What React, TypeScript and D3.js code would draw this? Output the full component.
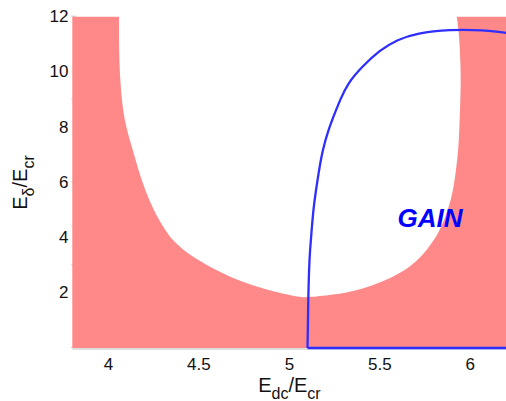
import React from "react";
import * as d3 from "d3";

// axis ticks
const xTicks = [4, 4.5, 5, 5.5, 6];
const yTicks = [2, 4, 6, 8, 10, 12];
const yMinorTicks = [0, 3, 6, 9, 12];

// boundary of the white (no-gain) hole:
// left branch from the top down, then the right branch back up
const holeX = [4.058, 4.058, 4.064, 4.079, 4.101, 4.134, 4.165, 4.202, 4.248, 4.312, 4.368, 4.46, 4.589, 4.709, 4.875, 5.04, 5.09, 5.241, 5.39, 5.538, 5.648, 5.731, 5.787, 5.833, 5.878, 5.906, 5.921, 5.934, 5.939, 5.943, 5.947, 5.947, 5.938, 5.925];
const holeY = [12, 10.79, 9.71, 8.62, 7.9, 7.18, 6.45, 5.72, 5.0, 4.27, 3.79, 3.31, 2.83, 2.46, 2.1, 1.86, 1.82, 1.92, 2.1, 2.46, 2.83, 3.31, 3.79, 4.27, 5.0, 5.72, 6.45, 7.18, 7.9, 8.62, 9.4, 10.18, 11.41, 12];

// blue gain curve
const gainX = [5.1, 5.102, 5.103, 5.108, 5.114, 5.123, 5.132, 5.147, 5.164, 5.184, 5.215, 5.258, 5.28, 5.324, 5.4, 5.5, 5.593, 5.704, 5.888, 6.072, 6.2];
const gainY = [0, 0.7, 1.38, 2.83, 3.55, 4.27, 5.0, 5.72, 6.45, 7.18, 7.9, 8.62, 8.98, 9.6, 10.18, 10.79, 11.16, 11.41, 11.54, 11.52, 11.41];

const W = 506;
const H = 401;
const FONT = "'Liberation Sans', Arial, sans-serif";

const App = () => {
  const x = d3.scaleLinear().domain([3.8, 6.2]).range([72.3, 506.5]);
  const y = d3.scaleLinear().domain([0, 12]).range([348, 16.7]);

  const holePts: [number, number][] = holeX.map((v, i) => [x(v), y(holeY[i])]);
  const hole = d3.line().curve(d3.curveBasis)(holePts) + "Z";
  const rect = `M${x(3.8)},${y(12)}H${x(6.2)}V${y(0)}H${x(3.8)}Z`;

  const gainPts: [number, number][] = gainX.map((v, i) => [x(v), y(gainY[i])]);
  const gain = d3.line().curve(d3.curveBasis)(gainPts) || "";
  const base = d3.line()([
    [x(5.1), y(0)],
    [x(6.2), y(0)],
  ]) || "";

  return (
    <div style={{ position: "absolute", left: 0, top: 0 }}>
      <svg width={W} height={H} style={{ display: "block", fontFamily: FONT }}>
        {/* faint axis lines */}
        <line x1={x(3.8)} x2={W} y1={y(0) + 1} y2={y(0) + 1} stroke="#d4d4d4" strokeWidth={1.5} />
        {yMinorTicks.map((t) => (
          <line key={t} x1={x(3.8) - 1} x2={x(3.8) + 4} y1={y(t) - 0.5} y2={y(t) - 0.5} stroke="#c8c8c8" strokeWidth={1} />
        ))}

        {/* loss region */}
        <path d={rect + hole} fill="#ff8888" fillRule="evenodd" />

        {/* gain curve */}
        <path d={base} fill="none" stroke="#2e2eff" strokeWidth={2.3} />
        <path d={gain} fill="none" stroke="#2e2eff" strokeWidth={2.3} />

        <text x={430} y={226.5} textAnchor="middle" fill="#0000ff" fontSize={26} fontWeight="bold" fontStyle="italic">
          GAIN
        </text>

        {/* tick labels */}
        {xTicks.map((t) => (
          <text key={t} x={x(t)} y={370} textAnchor="middle" fontSize={17} fill="#111">
            {t}
          </text>
        ))}
        {yTicks.map((t) => (
          <text key={t} x={68.5} y={y(t)} textAnchor="end" dominantBaseline="central" fontSize={17} fill="#111">
            {t}
          </text>
        ))}

        {/* axis titles */}
        <text x={x(5)} y={392} textAnchor="middle" fontSize={20} fill="#111">
          E<tspan fontSize={16} dy={7}>dc</tspan>
          <tspan dy={-7}>/E</tspan>
          <tspan fontSize={16} dy={7}>cr</tspan>
        </text>
        <text transform="translate(27,182.5) rotate(-90)" textAnchor="middle" fontSize={20} fill="#111">
          E<tspan fontSize={16} dy={7}>δ</tspan>
          <tspan dy={-7}>/E</tspan>
          <tspan fontSize={16} dy={7}>cr</tspan>
        </text>
      </svg>
    </div>
  );
};

export default App;
